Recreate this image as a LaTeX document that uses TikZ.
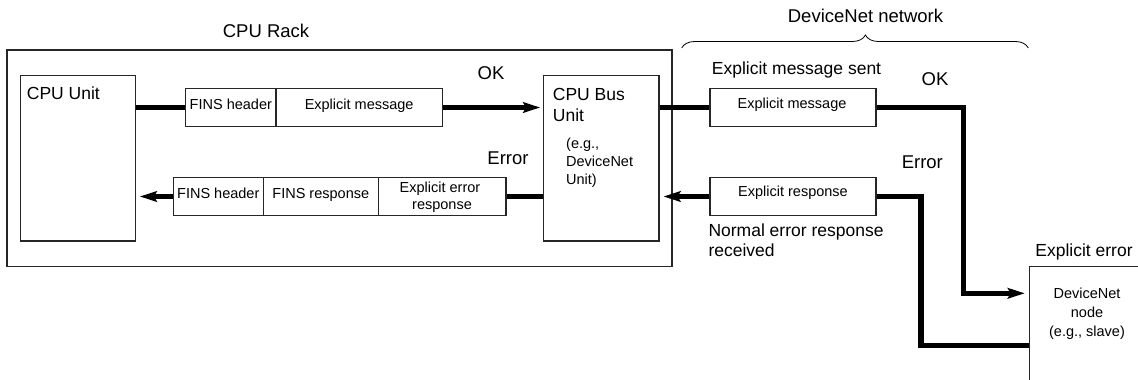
\documentclass[tikz,border=0pt]{standalone}
\usepackage{fontspec}
\setmainfont{Liberation Sans}
\usetikzlibrary{arrows.meta,decorations.pathreplacing,calc}
\begin{document}
\begin{tikzpicture}[x=1pt,y=-1pt,
  box/.style={draw=black!85,line width=1.1pt,rectangle,inner sep=0pt},
  conn/.style={line width=5.5pt,line join=miter,line cap=butt},
  arr/.style={conn,-{Stealth[length=17pt,width=10.5pt,inset=3pt]}},
  bigt/.style={font=\fontsize{17.5}{20}\selectfont,inner sep=0pt},
  huget/.style={font=\fontsize{18.5}{21}\selectfont,inner sep=0pt},
  smallt/.style={font=\fontsize{14.5}{17}\selectfont,inner sep=0pt},
]
\useasboundingbox (0,0) rectangle (1138,380);
\clip (0,0) rectangle (1138,380);

% boxes
\node[box,minimum width=665pt,minimum height=216.7pt] (rack) at (339.5,158.35) {};
\node[box,minimum width=114.6pt,minimum height=165.3pt] (cpu) at (78,158.35) {};
\node[box,minimum width=115.3pt,minimum height=165.3pt] (bus) at (601.35,158.35) {};
\node[box,minimum width=90.3pt,minimum height=38.4pt] (fh1) at (230.85,107.5) {};
\node[box,minimum width=166.3pt,minimum height=38.4pt] (em1) at (359.15,107.5) {};
\node[box,minimum width=90pt,minimum height=38.4pt] (fh2) at (218.3,196.5) {};
\node[box,minimum width=115pt,minimum height=38.4pt] (fr2) at (320.8,196.5) {};
\node[box,minimum width=127.7pt,minimum height=38.4pt] (ee2) at (442.15,196.5) {};
\node[box,minimum width=166pt,minimum height=38.4pt] (em3) at (793,107.5) {};
\node[box,minimum width=166pt,minimum height=38.4pt] (er3) at (793,196.5) {};
\node[box,minimum width=170.7pt,minimum height=153.3pt] (dn) at (1114.65,343.35) {};

% texts
\node[huget,anchor=base] (rackT) at (266,37.6) {CPU Rack};
\node[bigt,anchor=base west] (cpuT) at (26.7,99.6) {CPU Unit};
\node[smallt,anchor=base] (fh1T) at (230.85,109.5) {FINS header};
\node[smallt,anchor=base] (em1T) at (359.15,109.5) {Explicit message};
\node[smallt,anchor=base] (fh2T) at (218.3,198.5) {FINS header};
\node[smallt,anchor=base] (fr2T) at (320.8,198.5) {FINS response};
\node[smallt,anchor=base] (ee2Ta) at (440,192.5) {Explicit error};
\node[smallt,anchor=base] (ee2Tb) at (442,209.9) {response};
\node[huget,anchor=base] (okL) at (491,79.3) {OK};
\node[huget,anchor=base] (errL) at (508,164.3) {Error};
\node[bigt,anchor=base west] (busT1) at (552.7,100.3) {CPU Bus};
\node[bigt,anchor=base west] (busT2) at (552.7,121.3) {Unit};
\node[smallt,anchor=base west] (busT3) at (566,148.5) {(e.g.,};
\node[smallt,anchor=base west] (busT4) at (566,166.2) {DeviceNet};
\node[smallt,anchor=base west] (busT5) at (566,184.5) {Unit)};
\node[huget,anchor=base] (netT) at (865.5,22.4) {DeviceNet network};
\node[bigt,anchor=base west] (sentT) at (711.7,74.5) {Explicit message sent};
\node[huget,anchor=base] (okR) at (935,85) {OK};
\node[smallt,anchor=base] (em3T) at (792,108) {Explicit message};
\node[huget,anchor=base] (errR) at (922.3,168.5) {Error};
\node[smallt,anchor=base] (er3T) at (793,196.3) {Explicit response};
\node[bigt,anchor=base west] (normT1) at (708.3,236.2) {Normal error response};
\node[bigt,anchor=base west] (normT2) at (708.3,256.2) {received};
\node[bigt,anchor=base] (eeT) at (1084,256.2) {Explicit error};
\node[smallt,anchor=base] (dnT1) at (1087,298.5) {DeviceNet};
\node[smallt,anchor=base] (dnT2) at (1087,317.9) {node};
\node[smallt,anchor=base] (dnT3) at (1087,336.9) {(e.g., slave)};

% brace
\coordinate (br1) at (681.7,48);
\coordinate (br2) at (1028.3,48);
\draw[line width=0.8pt,decorate,decoration={brace,amplitude=13pt,aspect=0.53}] (br1) -- (br2);

% connectors
\coordinate (k1) at (963.5,293.3);
\coordinate (k2) at (921,345.5);
\draw[conn] (cpu.east |- fh1.west) -- (fh1.west);
\draw[arr,shorten >=3pt] (em1.east) -- (em1.east -| bus.west);
\draw[conn] (bus.east |- em3.west) -- (em3.west);
\draw[arr,shorten >=4pt] (em3.east) -| (k1) -- (k1 -| dn.west);
\draw[conn] (k2 -| dn.west) -- (k2) |- (er3.east);
\draw[arr,shorten >=4pt] (er3.west) -- (er3.west -| bus.east);
\draw[conn] (bus.west |- ee2.east) -- (ee2.east);
\draw[arr,shorten >=4pt] (fh2.west) -- (fh2.west -| cpu.east);
\end{tikzpicture}
\end{document}
